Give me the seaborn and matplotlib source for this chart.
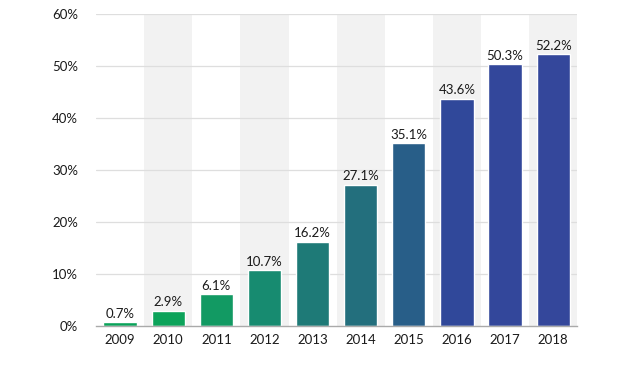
import matplotlib
matplotlib.use("Agg")
import matplotlib.pyplot as plt
import seaborn as sns
import pandas as pd

years = ["2009", "2010", "2011", "2012", "2013", "2014", "2015", "2016", "2017", "2018"]
values = [0.7, 2.9, 6.1, 10.7, 16.2, 27.1, 35.1, 43.6, 50.3, 52.2]
colors = ["#0aa35a", "#0ca35a", "#129a63", "#178b70", "#1e7a77", "#236f7d",
          "#285e88", "#30489a", "#33479b", "#34479b"]
yticks = [0, 10, 20, 30, 40, 50, 60]

sns.set_theme(style="white")
plt.rcParams["font.family"] = ["Lato", "DejaVu Sans"]

df = pd.DataFrame({"year": years, "value": values})

fig = plt.figure(figsize=(6.4, 3.85), dpi=100)
ax = fig.add_axes([0.15, 0.153, 0.752, 0.811])

for i in range(len(years)):
    if i % 2 == 1:
        ax.axvspan(i - 0.5, i + 0.5, color="#f2f2f2", zorder=0, lw=0)

for t in yticks[1:]:
    ax.axhline(t, color="#dedede", lw=0.9, zorder=0.5)

sns.barplot(data=df, x="year", y="value", hue="year", palette=colors,
            legend=False, width=0.69, ax=ax, zorder=2, saturation=1)

for i, v in enumerate(values):
    ax.annotate(f"{v}%", (i, v), xytext=(0, 2), textcoords="offset points",
                ha="center", va="bottom", fontsize=9.5, color="#1a1a1a")

ax.set_xlim(-0.5, len(years) - 0.5)
ax.set_ylim(0, 60)
ax.set_yticks(yticks)
ax.set_yticklabels([f"{t}%" for t in yticks])
ax.set_xlabel("")
ax.set_ylabel("")
for s in ["top", "right", "left"]:
    ax.spines[s].set_visible(False)
ax.spines["bottom"].set_color("#aaaaaa")
ax.spines["bottom"].set_linewidth(1)
ax.tick_params(axis="both", length=0, labelsize=9.5, colors="#1a1a1a")
ax.tick_params(axis="y", pad=13)
ax.tick_params(axis="x", pad=6)

fig.savefig("out.png", dpi=100)
